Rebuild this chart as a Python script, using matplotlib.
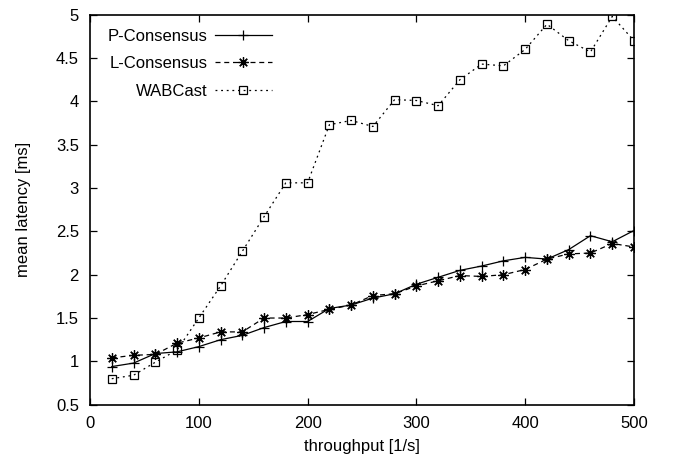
import matplotlib
matplotlib.use("Agg")
import matplotlib.pyplot as plt
from matplotlib.ticker import FuncFormatter, MultipleLocator

plt.rcParams['font.family'] = ['Liberation Sans', 'DejaVu Sans']
plt.rcParams['font.size'] = 12

# throughput [1/s]
throughput = [20, 40, 60, 80, 100, 120, 140, 160, 180, 200, 220, 240, 260,
              280, 300, 320, 340, 360, 380, 400, 420, 440, 460, 480, 500]

# mean latency [ms]
p_consensus = [0.94, 0.98, 1.09, 1.11, 1.17, 1.25, 1.30, 1.39, 1.46, 1.46, 1.61, 1.65, 1.73,
               1.78, 1.89, 1.97, 2.05, 2.10, 2.16, 2.20, 2.18, 2.29, 2.45, 2.38, 2.51]
l_consensus = [1.04, 1.07, 1.08, 1.21, 1.27, 1.34, 1.34, 1.50, 1.50, 1.54, 1.60, 1.65, 1.76,
               1.78, 1.87, 1.93, 1.99, 1.98, 2.00, 2.06, 2.18, 2.24, 2.25, 2.36, 2.32]
wabcast = [0.80, 0.84, 0.99, 1.13, 1.50, 1.87, 2.27, 2.67, 3.06, 3.06, 3.73, 3.78, 3.71,
           4.02, 4.01, 3.95, 4.25, 4.43, 4.41, 4.60, 4.89, 4.70, 4.57, 4.98, 4.70]

fig = plt.figure(figsize=(6.74, 4.59), dpi=100)
ax = fig.add_axes([90 / 674, 1 - 404.7 / 459, 544 / 674, 390 / 459])

ax.plot(throughput, p_consensus, color='black', linestyle='-', linewidth=0.9,
        marker='+', markersize=7, markeredgewidth=0.9, label='P-Consensus')
ax.plot(throughput, l_consensus, color='black', linestyle=(0, (4, 3)), linewidth=0.9,
        marker=(8, 2, 0), markersize=7.5, markeredgewidth=0.9, label='L-Consensus')
ax.plot(throughput, wabcast, color='black', linestyle=(0, (1.5, 3)), linewidth=0.9,
        marker='s', markersize=6, markerfacecolor='none', markeredgewidth=0.9,
        label='WABCast')

ax.set_xlim(0, 500)
ax.set_ylim(0.5, 5)
ax.xaxis.set_major_locator(MultipleLocator(100))
ax.yaxis.set_major_locator(MultipleLocator(0.5))
ax.yaxis.set_major_formatter(FuncFormatter(lambda v, p: '%g' % v))
ax.tick_params(direction='in', length=5, width=0.9, top=True, right=True, pad=8)
for s in ax.spines.values():
    s.set_linewidth(1.2)

ax.set_xlabel('throughput [1/s]', labelpad=6)
ax.set_ylabel('mean latency [ms]', labelpad=18)

ax.legend(loc='upper left', frameon=False, markerfirst=False, handlelength=3.4,
          handletextpad=0.45, labelspacing=0.75, bbox_to_anchor=(0.005, 1.003))

fig.savefig('out.png', dpi=100)
